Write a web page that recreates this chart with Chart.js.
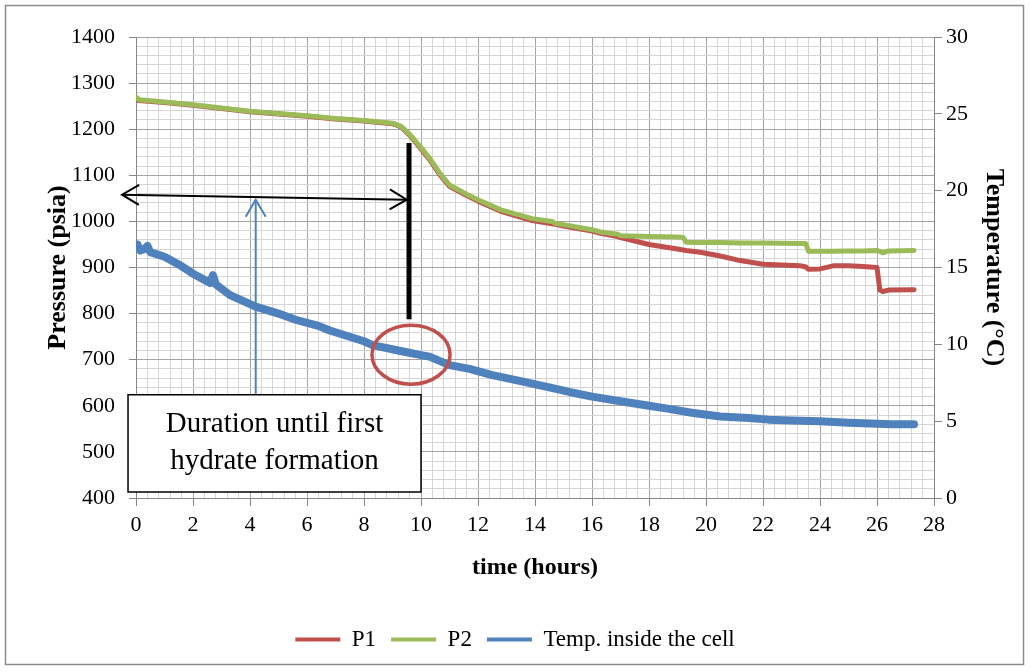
<!DOCTYPE html>
<html>
<head>
<meta charset="utf-8">
<script src="https://cdn.jsdelivr.net/npm/chart.js@4.4.1/dist/chart.umd.min.js"></script>
<style>
  body { margin: 0; background: #fff; }
  #wrap { width: 1030px; height: 672px; position: relative; }
</style>
</head>
<body>
<div id="wrap"><canvas id="graph"></canvas></div>
<script>
// pressure readings (psia), shared time axis (hours)
const pressureTime = [0, 0.1, 1, 2, 3, 4, 5, 6, 7, 8, 9, 9.3, 9.6, 10, 10.3, 10.7, 11, 11.6, 12, 12.8,
  13.9, 14.6, 14.7, 15, 16, 16.3, 16.9, 17, 18, 19, 19.2, 19.3, 19.8, 20.5, 21.2, 22, 23.3, 23.5,
  23.6, 24, 24.5, 25, 25.5, 26, 26.1, 26.2, 26.4, 27.3]
const p1Values = [1266, 1262, 1258, 1252, 1245, 1238, 1233, 1228, 1222, 1218, 1212, 1205, 1187, 1157,
  1134, 1098, 1076, 1056, 1044, 1022, 1002, 995, 994, 990, 979, 974, 967, 965, 950, 940, 938, 937,
  933, 925, 915, 907, 904, 901, 896, 897, 904, 904, 902, 900, 851, 848, 851, 852]
const p2Values = [1270, 1264, 1259, 1253, 1246, 1239, 1234, 1229, 1223, 1219, 1213, 1206, 1189, 1160,
  1137, 1101, 1079, 1059, 1047, 1025, 1006, 1000, 996, 993, 982, 977, 972, 969, 967, 966, 965, 955,
  954, 954, 953, 953, 952, 952, 935, 935, 935, 936, 936, 937, 935, 932, 936, 937]

// temperature inside the cell (°C)
const tempTime = [0, 0.05, 0.15, 0.3, 0.4, 0.5, 1, 1.5, 2, 2.6, 2.7, 2.8, 3.3, 4.2, 5, 5.6, 6.4, 6.8,
  8, 8.3, 9.2, 10, 10.3, 11, 11.7, 12.5, 13.5, 14.5, 15.2, 16, 17, 18, 18.7, 19.5, 20.5, 21.5, 22.2,
  23, 24, 25, 25.75, 26.5, 27.3]
const tempValues = [16.3, 16.5, 16.1, 16.2, 16.4, 16.0, 15.7, 15.2, 14.6, 14.0, 14.5, 13.9, 13.2, 12.45,
  12.0, 11.6, 11.2, 10.9, 10.2, 9.95, 9.6, 9.3, 9.2, 8.65, 8.4, 8.0, 7.6, 7.2, 6.9, 6.6, 6.3, 6.0,
  5.8, 5.55, 5.3, 5.2, 5.1, 5.05, 5.0, 4.9, 4.85, 4.8, 4.8]

const seriesLabels = ['P1', 'P2', 'Temp. inside the cell']
const boxText = ['Duration until first', 'hydrate formation']

const COLOURS = {
  p1: '#c0504d',
  p2: '#9bbb59',
  temp: '#4f81bd',
  gridMajor: '#a3a3a3',
  gridMinor: '#d6d6d6',
  axis: '#868686',
}

const SERIF = "'Liberation Serif', 'Times New Roman', serif"
Chart.defaults.font.family = SERIF
Chart.defaults.color = '#000'

function isMultiple(v, step) {
  return Math.abs(v / step - Math.round(v / step)) < 1e-6
}

function toPoints(xs, ys) {
  return xs.map((x, i) => ({ x: x, y: ys[i] }))
}

// arrows, marker line, ellipse and text box, placed in data units
const notes = {
  id: 'notes',
  afterDraw(chart) {
    const { ctx } = chart
    const x = chart.scales.x
    const y = chart.scales.y
    const px = t => x.getPixelForValue(t)
    const py = p => y.getPixelForValue(p)

    function arrowHead(tx, ty, ang) {
      const len = 17, half = 10
      const bx = tx - Math.cos(ang) * len, by = ty - Math.sin(ang) * len
      const nx = -Math.sin(ang) * half, ny = Math.cos(ang) * half
      ctx.beginPath()
      ctx.moveTo(bx + nx, by + ny)
      ctx.lineTo(tx, ty)
      ctx.lineTo(bx - nx, by - ny)
      ctx.stroke()
    }

    ctx.save()
    ctx.lineCap = 'butt'

    // black marker at first hydrate formation
    ctx.strokeStyle = '#000'
    ctx.lineWidth = 5
    ctx.beginPath()
    ctx.moveTo(px(9.58), py(1170))
    ctx.lineTo(px(9.58), py(788))
    ctx.stroke()

    // double arrow
    const ax0 = px(-0.49), ay0 = py(1058), ax1 = px(9.5), ay1 = py(1047)
    const ang = Math.atan2(ay1 - ay0, ax1 - ax0)
    ctx.lineWidth = 2
    ctx.beginPath()
    ctx.moveTo(ax0, ay0)
    ctx.lineTo(ax1, ay1)
    ctx.stroke()
    arrowHead(ax1, ay1, ang)
    arrowHead(ax0, ay0, ang + Math.PI)

    // blue pointer from the text box
    ctx.strokeStyle = COLOURS.temp
    ctx.lineWidth = 2
    const bx = px(4.2)
    ctx.beginPath()
    ctx.moveTo(bx, py(626))
    ctx.lineTo(bx, py(1047))
    ctx.stroke()
    arrowHead(bx, py(1047), -Math.PI / 2)

    // red ellipse
    ctx.strokeStyle = COLOURS.p1
    ctx.lineWidth = 3.5
    const cx = px(9.65), cy = py(711)
    const rx = px(9.65 + 1.37) - cx, ry = cy - py(711 + 64)
    ctx.beginPath()
    ctx.ellipse(cx, cy, rx, ry, 0, 0, Math.PI * 2)
    ctx.stroke()

    // text box
    const l = px(-0.28), r = px(10.0), t = py(624), b = py(413)
    ctx.fillStyle = '#fff'
    ctx.fillRect(l, t, r - l, b - t)
    ctx.strokeStyle = '#000'
    ctx.lineWidth = 1.5
    ctx.strokeRect(l, t, r - l, b - t)
    ctx.fillStyle = '#000'
    ctx.font = '29px ' + SERIF
    ctx.textAlign = 'center'
    ctx.textBaseline = 'middle'
    ctx.fillText(boxText[0], (l + r) / 2, t + 30)
    ctx.fillText(boxText[1], (l + r) / 2, t + 67)

    // outer frame
    ctx.strokeStyle = '#8c8c8c'
    ctx.lineWidth = 1.5
    ctx.strokeRect(5.5, 5.5, 1018, 659)
    ctx.restore()
  },
}

const ctx = document.getElementById('graph').getContext('2d')

let graph = new Chart(ctx, {
  type: 'line',
  data: {
    datasets: [
      {
        label: seriesLabels[0],
        data: toPoints(pressureTime, p1Values),
        borderColor: COLOURS.p1,
        backgroundColor: COLOURS.p1,
        borderWidth: 5,
        yAxisID: 'y',
        order: 2,
      },
      {
        label: seriesLabels[1],
        data: toPoints(pressureTime, p2Values),
        borderColor: COLOURS.p2,
        backgroundColor: COLOURS.p2,
        borderWidth: 5,
        yAxisID: 'y',
        order: 1,
      },
      {
        label: seriesLabels[2],
        data: toPoints(tempTime, tempValues),
        borderColor: COLOURS.temp,
        backgroundColor: COLOURS.temp,
        borderWidth: 8,
        yAxisID: 'y1',
        order: 0,
      },
    ],
  },
  options: {
    responsive: true,
    maintainAspectRatio: false,
    animation: false,
    elements: {
      point: { radius: 0 },
      line: { tension: 0, borderJoinStyle: 'round', borderCapStyle: 'round' },
    },
    layout: { padding: { top: 37, left: 10, right: 10, bottom: 11 } },
    plugins: {
      tooltip: { enabled: false },
      legend: {
        position: 'bottom',
        labels: {
          boxWidth: 45,
          boxHeight: 4,
          padding: 15,
          font: { size: 23 },
          sort: (a, b) => a.datasetIndex - b.datasetIndex,
          generateLabels: chart => chart.data.datasets.map((ds, i) => ({
            text: ds.label,
            fillStyle: ds.borderColor,
            strokeStyle: ds.borderColor,
            lineWidth: 0,
            datasetIndex: i,
            hidden: false,
          })),
        },
      },
    },
    scales: {
      x: {
        type: 'linear',
        min: 0,
        max: 28,
        ticks: {
          stepSize: 0.4,
          autoSkip: false,
          maxRotation: 0,
          padding: 6,
          font: { size: 22 },
          callback: v => (isMultiple(v, 2) ? Math.round(v) : ''),
        },
        grid: {
          color: c => (isMultiple(c.tick.value, 2) ? COLOURS.gridMajor : COLOURS.gridMinor),
          tickColor: c => (isMultiple(c.tick.value, 2) ? COLOURS.axis : 'transparent'),
          tickLength: 8,
        },
        border: { color: COLOURS.axis },
        title: {
          display: true,
          text: 'time (hours)',
          font: { size: 24, weight: 'bold' },
          padding: { top: 0, bottom: 31 },
        },
        afterFit: s => { s.height = 115 },
      },
      y: {
        position: 'left',
        min: 400,
        max: 1400,
        ticks: {
          stepSize: 20,
          autoSkip: false,
          padding: 14,
          font: { size: 22 },
          callback: v => (isMultiple(v, 100) ? v : ''),
        },
        grid: {
          color: c => (isMultiple(c.tick.value, 100) ? COLOURS.gridMajor : COLOURS.gridMinor),
          tickColor: c => (isMultiple(c.tick.value, 100) ? COLOURS.axis : 'transparent'),
          tickLength: 7,
        },
        border: { color: COLOURS.axis },
        title: {
          display: true,
          text: 'Pressure (psia)',
          font: { size: 26, weight: 'bold' },
          padding: { top: 33, bottom: 0 },
        },
        afterFit: s => { s.width = 126 },
      },
      y1: {
        position: 'right',
        min: 0,
        max: 30,
        ticks: { stepSize: 5, padding: 4, font: { size: 22 } },
        grid: { drawOnChartArea: false, tickLength: 8, tickColor: COLOURS.axis },
        border: { color: COLOURS.axis },
        title: {
          display: true,
          text: 'Temperature (°C)',
          font: { size: 26, weight: 'bold' },
          padding: { top: 11, bottom: 0 },
        },
        afterFit: s => { s.width = 86 },
      },
    },
  },
  plugins: [notes],
})
</script>
</body>
</html>
